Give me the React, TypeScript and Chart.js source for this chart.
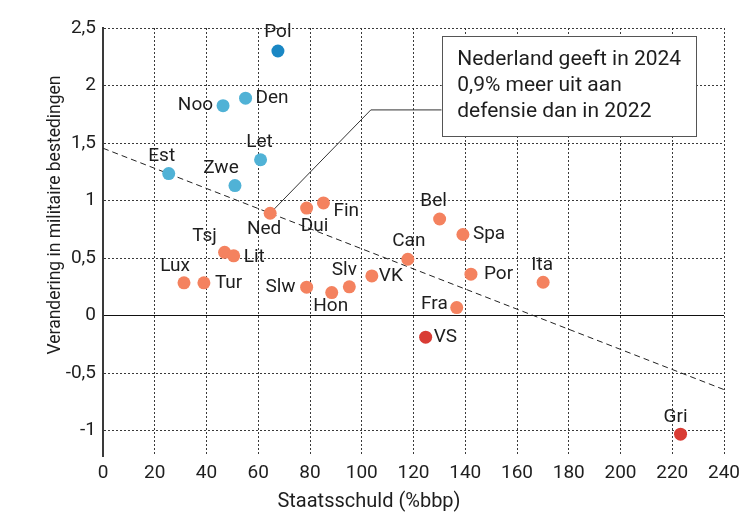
import { useEffect, useRef } from 'react';
import { Chart, registerables } from 'chart.js';
Chart.register(...registerables);

const countries = ['Pol', 'Noo', 'Den', 'Let', 'Est', 'Zwe', 'Ned', 'Dui', 'Fin', 'Bel', 'Spa', 'Can', 'Tsj', 'Lit', 'Lux', 'Tur', 'Slw', 'Hon', 'Slv', 'VK', 'Por', 'Ita', 'Fra', 'VS', 'Gri'];
const debt = [67.6, 46.4, 55.1, 60.9, 25.4, 51.0, 64.6, 78.7, 85.2, 130.1, 139.1, 117.8, 47.0, 50.5, 31.3, 39.0, 78.7, 88.4, 95.2, 103.9, 142.2, 170.1, 136.7, 124.7, 223.2];
const change = [2.30, 1.825, 1.89, 1.355, 1.235, 1.13, 0.89, 0.935, 0.98, 0.84, 0.705, 0.49, 0.55, 0.52, 0.285, 0.285, 0.247, 0.20, 0.25, 0.345, 0.36, 0.29, 0.07, -0.187, -1.03];
const groups = ['top', 'blue', 'blue', 'blue', 'blue', 'blue', 'orange', 'orange', 'orange', 'orange', 'orange', 'orange', 'orange', 'orange', 'orange', 'orange', 'orange', 'orange', 'orange', 'orange', 'orange', 'orange', 'orange', 'red', 'red'];

const trendDebt = [0, 240];
const trendChange = [1.455, -0.643];

const yTickValues = [-1, -0.5, 0, 0.5, 1, 1.5, 2, 2.5];
const xTickValues = [0, 20, 40, 60, 80, 100, 120, 140, 160, 180, 200, 220, 240];

const annotationLines = ['Nederland geeft in 2024', '0,9% meer uit aan', 'defensie dan in 2022'];
const xTitle = 'Staatsschuld (%bbp)';
const yTitle = 'Verandering in militaire bestedingen';

const groupColors: Record<string, string> = {
  top: '#1a87c4',
  blue: '#50b2d6',
  orange: '#f4825f',
  red: '#d93c34',
};

// label placement: [dx, dy, align]
const labelPlacement: Record<string, [number, number, CanvasTextAlign]> = {
  Pol: [0, -19, 'center'],
  Noo: [-10, 0, 'right'],
  Den: [10, 0, 'left'],
  Let: [-1, -17, 'center'],
  Est: [-7, -17, 'center'],
  Zwe: [-14, -17, 'center'],
  Ned: [-6, 16, 'center'],
  Dui: [8, 18, 'center'],
  Fin: [10, 8, 'left'],
  Bel: [-6, -18, 'center'],
  Spa: [10, 0, 'left'],
  Can: [1, -18, 'center'],
  Tsj: [-20, -16, 'center'],
  Lit: [10, 1, 'left'],
  Lux: [-9, -17, 'center'],
  Tur: [11, 0, 'left'],
  Slw: [-11, 0, 'right'],
  Hon: [-1, 14, 'center'],
  Slv: [-5, -17, 'center'],
  VK: [7, 0, 'left'],
  Por: [13, 0, 'left'],
  Ita: [-1, -17, 'center'],
  Fra: [-9, -3, 'right'],
  VS: [8, 0, 'left'],
  Gri: [-5, -17, 'center'],
};

const FONT = 'Roboto, "Open Sans", sans-serif';
const TEXT = '#1e1e1e';

const overlayPlugin = {
  id: 'overlay',
  beforeDatasetsDraw(chart: any) {
    const { ctx, scales } = chart;
    const xs = scales.x;
    const ys = scales.y;
    const nedIdx = countries.indexOf('Ned');
    const nx = xs.getPixelForValue(debt[nedIdx]);
    const ny = ys.getPixelForValue(change[nedIdx]);
    const bx1 = xs.getPixelForValue(130.9);
    const bx2 = xs.getPixelForValue(229);
    const by1 = ys.getPixelForValue(2.43);
    const by2 = ys.getPixelForValue(1.564);
    const ex = xs.getPixelForValue(103.5);
    const ey = ys.getPixelForValue(1.788);
    ctx.save();
    ctx.strokeStyle = '#333';
    ctx.lineWidth = 1;
    ctx.setLineDash([]);
    ctx.beginPath();
    ctx.moveTo(bx1, ey);
    ctx.lineTo(ex, ey);
    ctx.lineTo(nx, ny);
    ctx.stroke();
    ctx.fillStyle = '#fff';
    ctx.fillRect(bx1, by1, bx2 - bx1, by2 - by1);
    ctx.strokeStyle = '#555';
    ctx.strokeRect(Math.round(bx1) + 0.5, Math.round(by1) + 0.5, Math.round(bx2 - bx1), Math.round(by2 - by1));
    ctx.fillStyle = TEXT;
    ctx.font = `21px ${FONT}`;
    ctx.textAlign = 'left';
    ctx.textBaseline = 'middle';
    annotationLines.forEach((t, i) => {
      ctx.fillText(t, bx1 + 15.5, by1 + 24 + i * 25.7);
    });
    // axis titles
    ctx.fillStyle = TEXT;
    ctx.font = `20px ${FONT}`;
    ctx.textAlign = 'center';
    ctx.fillText(xTitle, 369, 502);
    ctx.font = `17.5px ${FONT}`;
    ctx.translate(56, 215);
    ctx.rotate(-Math.PI / 2);
    ctx.fillText(yTitle, 0, 0);
    ctx.restore();
  },
  afterDatasetsDraw(chart: any) {
    const { ctx } = chart;
    ctx.save();
    ctx.font = `19px ${FONT}`;
    ctx.fillStyle = TEXT;
    ctx.textBaseline = 'middle';
    chart.data.datasets.forEach((ds: any, di: number) => {
      if (ds.type === 'line') return;
      const meta = chart.getDatasetMeta(di);
      meta.data.forEach((el: any, i: number) => {
        const name = ds.data[i].name;
        const p = labelPlacement[name] || [0, -17, 'center'];
        ctx.textAlign = p[2];
        ctx.fillText(name, el.x + p[0], el.y + p[1]);
      });
    });
    ctx.restore();
  },
};

export default function App() {
  const ref = useRef<HTMLCanvasElement>(null);
  useEffect(() => {
    if (!ref.current) return;
    const groupOrder = ['top', 'blue', 'orange', 'red'];
    const scatterSets = groupOrder.map((g) => ({
      type: 'scatter' as const,
      label: g,
      data: countries
        .map((c, i) => ({ x: debt[i], y: change[i], name: c, g: groups[i] }))
        .filter((p) => p.g === g),
      backgroundColor: groupColors[g],
      borderWidth: 0,
      pointRadius: 6.5,
      pointHoverRadius: 6.5,
      order: 1,
    }));
    const chart = new Chart(ref.current, {
      type: 'scatter',
      data: {
        datasets: [
          {
            type: 'line' as const,
            label: 'trend',
            data: trendDebt.map((x, i) => ({ x, y: trendChange[i] })),
            borderColor: '#222',
            borderWidth: 1,
            borderDash: [6, 4],
            pointRadius: 0,
            fill: false,
            order: 10,
          } as any,
          ...scatterSets,
        ],
      },
      options: {
        animation: false,
        responsive: true,
        maintainAspectRatio: false,
        layout: { padding: { top: 28, right: 19, left: 0, bottom: 0 } },
        plugins: { legend: { display: false }, tooltip: { enabled: false } },
        scales: {
          x: {
            type: 'linear',
            min: 0,
            max: 240,
            afterBuildTicks: (s: any) => {
              s.ticks = xTickValues.map((v) => ({ value: v }));
            },
            afterFit: (s: any) => {
              s.height = 58;
              s.paddingLeft = 0;
              s.paddingRight = 0;
            },
            grid: { color: '#3a3a3a', lineWidth: 1, drawTicks: false },
            border: { display: false, dash: [2, 2] },
            ticks: {
              padding: 6,
              color: TEXT,
              font: { family: FONT, size: 19 },
              maxRotation: 0,
              autoSkip: false,
            },
          },
          y: {
            type: 'linear',
            min: -1.22,
            max: 2.5,
            afterBuildTicks: (s: any) => {
              s.ticks = yTickValues.map((v) => ({ value: v }));
            },
            afterFit: (s: any) => {
              s.width = 103;
              s.paddingTop = 0;
              s.paddingBottom = 0;
            },
            grid: {
              color: (c: any) => (c.tick && c.tick.value === 0 ? '#111' : '#3a3a3a'),
              lineWidth: 1,
              drawTicks: false,
            },
            border: {
              display: true,
              color: '#3a3a3a',
              width: 2,
              dash: (c: any) => (c.tick && c.tick.value === 0 ? [] : [2, 2]),
            } as any,
            ticks: {
              padding: 7,
              color: TEXT,
              font: { family: FONT, size: 19 },
              autoSkip: false,
              callback: (v: any) => String(v).replace('.', ','),
            },
          },
        },
      },
      plugins: [overlayPlugin],
    });
    return () => chart.destroy();
  }, []);
  return (
    <div style={{ position: 'absolute', left: 0, top: 0, width: 743, height: 514 }}>
      <canvas ref={ref} />
    </div>
  );
}
